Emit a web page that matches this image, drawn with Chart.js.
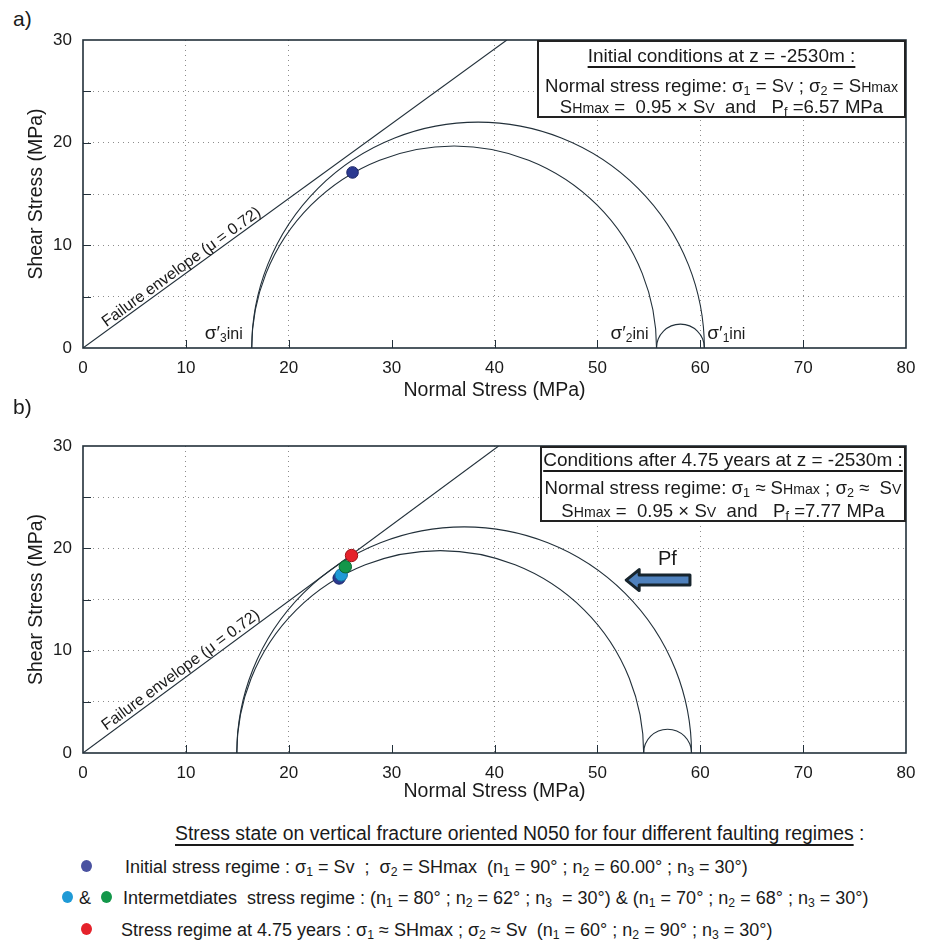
<!DOCTYPE html>
<html><head><meta charset="utf-8">
<script src="https://cdn.jsdelivr.net/npm/chart.js@4.4.1/dist/chart.umd.min.js"></script>
<style>
html,body{margin:0;padding:0;background:#fff;}
body{position:relative;width:927px;height:945px;overflow:hidden;font-family:"Liberation Sans",Arial,sans-serif;color:#1a1a1a;}
canvas{position:absolute;left:0;}
.plab{position:absolute;left:13px;font-size:21px;line-height:21px;}
.box{position:absolute;box-sizing:border-box;border:2px solid #222;background:#fff;}
.box .ln{position:absolute;left:0;right:0;text-align:center;white-space:pre;font-size:18.6px;line-height:20px;}
.box .ttl{font-size:19px;}
.ul{text-decoration:underline;text-decoration-thickness:2px;text-underline-offset:4px;}
sub{font-size:0.68em;vertical-align:-0.22em;line-height:0;}
.sm{font-size:0.76em;}
.lt{position:absolute;white-space:pre;font-size:18px;line-height:18px;}
.lt.head{font-size:19.4px;}
.dot{position:absolute;width:11px;height:12px;border-radius:50%;}
</style></head>
<body>
<div class="plab" style="top:8px">a)</div>
<canvas id="ca" width="927" height="410" style="top:0px"></canvas>
<div class="plab" style="top:396px">b)</div>
<canvas id="cb" width="927" height="410" style="top:406px"></canvas>

<div class="box" style="left:537px;top:40px;width:369px;height:78px;">
  <div class="ln ttl" style="top:4px"><span class="ul">Initial conditions at z = -2530m :</span></div>
  <div class="ln" style="top:34px">Normal stress regime: σ<sub>1</sub> = S<span class="sm">V</span> ; σ<sub>2</sub> = S<span class="sm">Hmax</span></div>
  <div class="ln" style="top:55px">S<span class="sm">Hmax</span> =  0.95 × S<span class="sm">V</span>  and   P<sub>f</sub> =6.57 MPa</div>
</div>
<div class="box" style="left:540px;top:446px;width:366px;height:76px;">
  <div class="ln ttl" style="top:2px"><span class="ul">Conditions after 4.75 years at z = -2530m :</span></div>
  <div class="ln" style="top:30px">Normal stress regime: σ<sub>1</sub> ≈ S<span class="sm">Hmax</span> ; σ<sub>2</sub> ≈  S<span class="sm">V</span></div>
  <div class="ln" style="top:53px">S<span class="sm">Hmax</span> =  0.95 × S<span class="sm">V</span>  and   P<sub>f</sub> =7.77 MPa</div>
</div>

<div class="lt head" style="left:175px;top:824px"><span class="ul">Stress state on vertical fracture oriented N050 for four different faulting regimes</span> :</div>
<div class="dot" style="left:81px;top:860px;background:#4a52a0"></div>
<div class="lt" style="left:125px;top:858px">Initial stress regime : σ<sub>1</sub> = Sv  ;  σ<sub>2</sub> = SHmax  (n<sub>1</sub> = 90° ; n<sub>2</sub> = 60.00° ; n<sub>3</sub> = 30°)</div>
<div class="dot" style="left:62px;top:891px;background:#1f9ad6"></div>
<div class="lt" style="left:79px;top:889px">&amp;</div>
<div class="dot" style="left:101px;top:891px;background:#13974a"></div>
<div class="lt" style="left:123px;top:889px">Intermetdiates  stress regime : (n<sub>1</sub> = 80° ; n<sub>2</sub> = 62° ; n<sub>3</sub>  = 30°) &amp; (n<sub>1</sub> = 70° ; n<sub>2</sub> = 68° ; n<sub>3</sub> = 30°)</div>
<div class="dot" style="left:81px;top:923px;background:#e5222b"></div>
<div class="lt" style="left:121px;top:921px">Stress regime at 4.75 years : σ<sub>1</sub> ≈ SHmax ; σ<sub>2</sub> ≈ Sv  (n<sub>1</sub> = 60° ; n<sub>2</sub> = 90° ; n<sub>3</sub> = 30°)</div>

<script>
// ---------- data ----------
const xTickValues = [0, 10, 20, 30, 40, 50, 60, 70, 80];
const yTickValues = [0, 5, 10, 15, 20, 25, 30];
const yTickLabels = ['0', '', '10', '', '20', '', '30'];

// Panel a : initial conditions
const aMohrSigma = [16.4, 55.75, 60.4];      // σ'3, σ'2, σ'1 (MPa)
const aMohrNames = ['3', '2', '1'];
const aPointX = [26.2];
const aPointY = [17.1];
const aEnvelopeX = [0, 41.2];
const aEnvelopeY = [0, 30];

// Panel b : after 4.75 years
const bMohrSigma = [14.95, 54.5, 59.15];
const bPointNames = ['Initial', 'Intermediate (n1=80°)', 'Intermediate (n1=70°)', '4.75 years'];
const bPointX = [24.9, 25.1, 25.5, 26.1];
const bPointY = [17.1, 17.4, 18.2, 19.3];
const bEnvelopeX = [0, 40.4];
const bEnvelopeY = [0, 30];
const bArrowX = [59.0, 52.8];   // Pf arrow tail -> tip
const bArrowY = [16.9, 16.9];
const bArrowLabel = 'Pf';
const bArrowLabelPos = [56.8, 18.9];

const envelopeLabel = 'Failure envelope (μ = 0.72)';
const envelopeLabelAt = 10.0;

// ---------- styles ----------
const FONT = '"Liberation Sans", Arial, sans-serif';
const INK = '#1a1a1a';
const LINE = '#22303a';
const pointColors = ['#2b3990', '#1f9ad6', '#13974a', '#e5222b'];
const pointBorders = ['#1b2566', '#136c98', '#0b6532', '#9e1218'];

Chart.defaults.font.family = FONT;
Chart.defaults.color = INK;

function framePlugin() {
  return {
    id: 'frame',
    afterDraw(chart) {
      const {ctx, chartArea: a, scales: {x, y}} = chart;
      ctx.save();
      ctx.strokeStyle = LINE;
      ctx.lineWidth = 1;
      xTickValues.forEach(v => {
        if (v <= x.min || v >= x.max) return;
        const px = Math.round(x.getPixelForValue(v)) + 0.5;
        ctx.beginPath(); ctx.moveTo(px, a.bottom); ctx.lineTo(px, a.bottom - 8); ctx.stroke();
      });
      yTickValues.forEach(v => {
        if (v <= y.min || v >= y.max) return;
        const py = Math.round(y.getPixelForValue(v)) + 0.5;
        ctx.beginPath(); ctx.moveTo(a.left, py); ctx.lineTo(a.left + 8, py); ctx.stroke();
      });
      ctx.lineWidth = 1.6;
      ctx.strokeRect(a.left, a.top, a.right - a.left, a.bottom - a.top);
      ctx.restore();
    }
  };
}

function mohrPlugin(sigma) {
  return {
    id: 'mohr',
    beforeDatasetsDraw(chart) {
      const {ctx, chartArea: a, scales: {x, y}} = chart;
      const pairs = [[sigma[0], sigma[2]], [sigma[0], sigma[1]], [sigma[1], sigma[2]]];
      ctx.save();
      ctx.beginPath(); ctx.rect(a.left, a.top, a.right - a.left, a.bottom - a.top); ctx.clip();
      ctx.strokeStyle = LINE; ctx.lineWidth = 1.1;
      pairs.forEach(([lo, hi]) => {
        const c = (lo + hi) / 2, r = (hi - lo) / 2;
        const cx = x.getPixelForValue(c), cy = y.getPixelForValue(0);
        const rx = x.getPixelForValue(c + r) - cx;
        const ry = cy - y.getPixelForValue(r);
        ctx.beginPath(); ctx.ellipse(cx, cy, rx, ry, 0, Math.PI, 2 * Math.PI); ctx.stroke();
      });
      ctx.restore();
    }
  };
}

function drawSigmaLabel(ctx, sub, xPix, basePix, align) {
  const parts = [
    {t: 'σ′', f: '19px ' + FONT, dy: 0},
    {t: sub, f: '12px ' + FONT, dy: 3},
    {t: 'ini', f: '16px ' + FONT, dy: 0}
  ];
  let total = 0;
  parts.forEach(p => { ctx.font = p.f; p.w = ctx.measureText(p.t).width; total += p.w; });
  let cur = align === 'right' ? xPix - total : xPix;
  ctx.textAlign = 'left'; ctx.textBaseline = 'alphabetic'; ctx.fillStyle = INK;
  parts.forEach(p => { ctx.font = p.f; ctx.fillText(p.t, cur, basePix + p.dy); cur += p.w; });
}

function annotationPlugin(env, opts) {
  return {
    id: 'annot',
    afterDatasetsDraw(chart) {
      const {ctx, scales: {x, y}} = chart;
      ctx.save();
      // failure envelope label
      const x0 = x.getPixelForValue(env.x[0]), y0 = y.getPixelForValue(env.y[0]);
      const x1 = x.getPixelForValue(env.x[1]), y1 = y.getPixelForValue(env.y[1]);
      const ang = Math.atan2(y1 - y0, x1 - x0);
      const t = (envelopeLabelAt - env.x[0]) / (env.x[1] - env.x[0]);
      ctx.translate(x0 + t * (x1 - x0), y0 + t * (y1 - y0));
      ctx.rotate(ang);
      ctx.font = '16px ' + FONT; ctx.fillStyle = INK;
      ctx.textAlign = 'center'; ctx.textBaseline = 'alphabetic';
      ctx.fillText(envelopeLabel, 0, opts.envOffset);
      ctx.setTransform(1, 0, 0, 1, 0, 0);
      // sigma labels
      if (opts.sigma) {
        const base = y.getPixelForValue(0) - 9;
        drawSigmaLabel(ctx, aMohrNames[0], x.getPixelForValue(opts.sigma[0]) - 9, base, 'right');
        drawSigmaLabel(ctx, aMohrNames[1], x.getPixelForValue(opts.sigma[1]) - 8, base, 'right');
        drawSigmaLabel(ctx, aMohrNames[2], x.getPixelForValue(opts.sigma[2]) + 3, base, 'left');
      }
      // Pf arrow
      if (opts.arrow) {
        const tailX = x.getPixelForValue(bArrowX[0]), tipX = x.getPixelForValue(bArrowX[1]);
        const cy = y.getPixelForValue(bArrowY[1]);
        const headLen = 13, headH = 10.5, shaftH = 5;
        ctx.beginPath();
        ctx.moveTo(tipX, cy);
        ctx.lineTo(tipX + headLen, cy - headH);
        ctx.lineTo(tipX + headLen, cy - shaftH);
        ctx.lineTo(tailX, cy - shaftH);
        ctx.lineTo(tailX, cy + shaftH);
        ctx.lineTo(tipX + headLen, cy + shaftH);
        ctx.lineTo(tipX + headLen, cy + headH);
        ctx.closePath();
        ctx.fillStyle = '#4f81bd'; ctx.fill();
        ctx.lineWidth = 3; ctx.lineJoin = 'round'; ctx.strokeStyle = '#17252e'; ctx.stroke();
        ctx.font = '20px ' + FONT; ctx.fillStyle = INK; ctx.textAlign = 'center'; ctx.textBaseline = 'middle';
        ctx.fillText(bArrowLabel, x.getPixelForValue(bArrowLabelPos[0]), y.getPixelForValue(bArrowLabelPos[1]));
      }
      ctx.restore();
    }
  };
}

function scalesFor(xHeight, xTitlePad) {
  const gridColor = (ctx) => {
    const v = ctx.tick ? ctx.tick.value : null;
    return (v === 0 || v === 80 || v === 30) ? 'rgba(0,0,0,0)' : '#8c8c8c';
  };
  return {
    x: {
      type: 'linear', min: 0, max: 80,
      afterBuildTicks: s => { s.ticks = xTickValues.map(v => ({value: v})); },
      afterFit: s => { s.height = xHeight; },
      grid: {color: gridColor, lineWidth: 1, drawTicks: false},
      border: {display: false, dash: [1, 4]},
      ticks: {font: {size: 17}, color: INK, padding: 10, maxRotation: 0, callback: v => String(v)},
      title: {display: true, text: 'Normal Stress (MPa)', font: {size: 19.5}, color: INK, padding: {top: 0, bottom: xTitlePad}}
    },
    y: {
      type: 'linear', min: 0, max: 30,
      afterBuildTicks: s => { s.ticks = yTickValues.map(v => ({value: v})); },
      afterFit: s => { s.width = 83; },
      grid: {color: gridColor, lineWidth: 1, drawTicks: false},
      border: {display: false, dash: [1, 4]},
      ticks: {font: {size: 17}, color: INK, padding: 11, callback: (v, i) => yTickLabels[i]},
      title: {display: true, text: 'Shear Stress (MPa)', font: {size: 19.5}, color: INK, padding: {top: 25, bottom: 0}}
    }
  };
}

function baseOptions(xHeight, xTitlePad) {
  return {
    responsive: false, devicePixelRatio: 1, animation: false, events: [],
    layout: {padding: {left: 0, top: 40, right: 21, bottom: 0}},
    plugins: {legend: {display: false}, tooltip: {enabled: false}},
    scales: scalesFor(xHeight, xTitlePad)
  };
}

function envelopeDataset(ex, ey) {
  return {
    label: 'Failure envelope', data: ex.map((v, i) => ({x: v, y: ey[i]})),
    showLine: true, borderColor: LINE, borderWidth: 1.1, pointRadius: 0, order: 10
  };
}

// ---------- panel a ----------
new Chart(document.getElementById('ca'), {
  type: 'scatter',
  data: {
    datasets: [
      envelopeDataset(aEnvelopeX, aEnvelopeY),
      {label: 'Initial stress regime', data: aPointX.map((v, i) => ({x: v, y: aPointY[i]})),
       backgroundColor: pointColors[0], borderColor: pointBorders[0], borderWidth: 1, pointRadius: 5.8, order: 1}
    ]
  },
  options: baseOptions(62, 8),
  plugins: [mohrPlugin(aMohrSigma), annotationPlugin({x: aEnvelopeX, y: aEnvelopeY}, {envOffset: -3, sigma: aMohrSigma}), framePlugin()]
});

// ---------- panel b ----------
new Chart(document.getElementById('cb'), {
  type: 'scatter',
  data: {
    datasets: [envelopeDataset(bEnvelopeX, bEnvelopeY)].concat(
      bPointX.map((v, i) => ({
        label: bPointNames[i], data: [{x: v, y: bPointY[i]}],
        backgroundColor: pointColors[i], borderColor: pointBorders[i], borderWidth: 1,
        pointRadius: 6.2, order: bPointX.length - i
      })))
  },
  options: baseOptions(63, 13),
  plugins: [mohrPlugin(bMohrSigma), annotationPlugin({x: bEnvelopeX, y: bEnvelopeY}, {envOffset: -4, arrow: true}), framePlugin()]
});
</script>
</body></html>
